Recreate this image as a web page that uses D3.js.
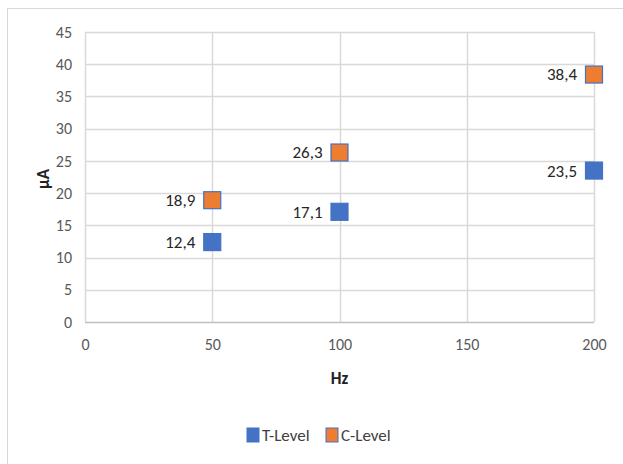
<!DOCTYPE html>
<html><head><meta charset="utf-8">
<script src="https://cdn.jsdelivr.net/npm/d3@7"></script>
<style>body{margin:0;background:#fff}</style>
</head><body>
<svg id="c" width="623" height="464"></svg>
<script>
const xValues = [50, 100, 200];
const tLevel = [12.4, 17.1, 23.5];
const cLevel = [18.9, 26.3, 38.4];
const xTicks = [0, 50, 100, 150, 200];
const yTicks = [0, 5, 10, 15, 20, 25, 30, 35, 40, 45];
const seriesNames = ["T-Level", "C-Level"];
const colors = ["#4472C4", "#ED7D31"];

const font = "Carlito, 'Liberation Sans Narrow', Lato, sans-serif";
const svg = d3.select("#c");
const m = {l: 85, r: 594, t: 32, b: 322};
const x = d3.scaleLinear().domain([0, 200]).range([m.l, m.r]);
const y = d3.scaleLinear().domain([0, 45]).range([m.b, m.t]);

// outer frame (top and left)
svg.append("line").attr("x1", 7).attr("x2", 623).attr("y1", 8.5).attr("y2", 8.5).attr("stroke", "#d9d9d9");
svg.append("line").attr("x1", 7.5).attr("x2", 7.5).attr("y1", 8).attr("y2", 464).attr("stroke", "#d9d9d9");

// grid
svg.append("g").selectAll("line").data(yTicks).join("line")
  .attr("x1", m.l).attr("x2", m.r).attr("y1", d => Math.round(y(d)) + 0.5).attr("y2", d => Math.round(y(d)) + 0.5)
  .attr("stroke", d => d === 0 ? "#bfbfbf" : "#d9d9d9").attr("stroke-width", 1.5);
svg.append("g").selectAll("line").data(xTicks).join("line")
  .attr("y1", m.t).attr("y2", m.b).attr("x1", d => Math.round(x(d)) + 0.5).attr("x2", d => Math.round(x(d)) + 0.5)
  .attr("stroke", "#d9d9d9").attr("stroke-width", 1.5);

// axes labels via d3 axes
const yAxis = svg.append("g").attr("transform", `translate(${m.l},0)`)
  .call(d3.axisLeft(y).tickValues(yTicks).tickSize(0).tickPadding(13));
const xAxis = svg.append("g").attr("transform", `translate(0,${m.b})`)
  .call(d3.axisBottom(x).tickValues(xTicks).tickSize(0).tickPadding(17));
[yAxis, xAxis].forEach(a => {
  a.select(".domain").remove();
  a.selectAll("text").attr("font-family", font).attr("font-size", 16).attr("fill", "#595959");
});

// axis titles
svg.append("text").attr("transform", "translate(43,179) rotate(-90)").attr("text-anchor", "middle")
  .attr("dy", "0.35em")
  .attr("font-family", font).attr("font-size", 17).attr("font-weight", "bold").attr("fill", "#222").text("µA");
svg.append("text").attr("x", (m.l + m.r) / 2).attr("y", 378).attr("dy", "0.35em").attr("text-anchor", "middle")
  .attr("font-family", font).attr("font-size", 17).attr("font-weight", "bold").attr("fill", "#222").text("Hz");

// markers
const series = [tLevel, cLevel];
const ms = 17;
series.forEach((vals, si) => {
  const g = svg.append("g");
  const pts = xValues.map((xv, i) => ({x: xv, y: vals[i]}));
  g.selectAll("rect").data(pts).join("rect")
    .attr("x", d => x(d.x) - ms / 2).attr("y", d => y(d.y) - ms / 2)
    .attr("width", ms).attr("height", ms)
    .attr("fill", colors[si]).attr("stroke", "#4472C4").attr("stroke-width", 1.2);
  g.selectAll("text").data(pts).join("text")
    .attr("x", d => x(d.x) - 17).attr("y", d => y(d.y)).attr("dy", "0.35em")
    .attr("text-anchor", "end").attr("font-family", font).attr("font-size", 17).attr("fill", "#262626")
    .text(d => String(d.y).replace(".", ","));
});

// legend
const leg = svg.append("g");
const legX = [247, 326];
seriesNames.forEach((n, i) => {
  leg.append("rect").attr("x", legX[i]).attr("y", 428).attr("width", 12).attr("height", 14)
    .attr("fill", colors[i]).attr("stroke", "#4472C4").attr("stroke-width", 1);
  leg.append("text").attr("x", legX[i] + 15).attr("y", 435).attr("dy", "0.35em")
    .attr("font-family", font).attr("font-size", 17).attr("fill", "#404040").text(n);
});
</script>
</body></html>
